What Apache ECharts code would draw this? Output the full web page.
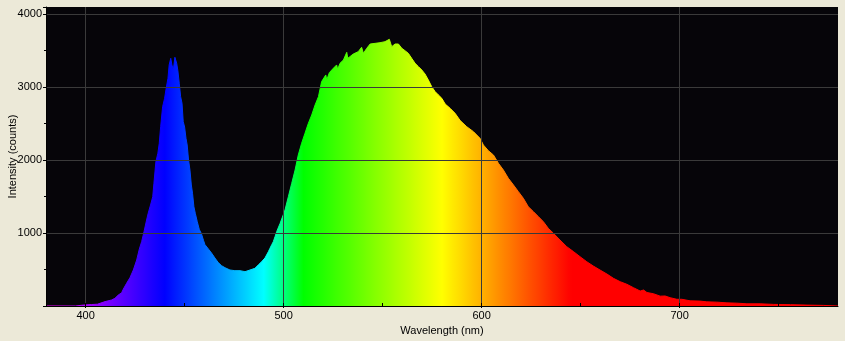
<!DOCTYPE html>
<html>
<head>
<meta charset="utf-8">
<script src="https://cdn.jsdelivr.net/npm/echarts@6/dist/echarts.min.js"></script>
<style>
html,body{margin:0;padding:0;background:#ECE9D8;}
#c{width:845px;height:341px;}
</style>
</head>
<body>
<div id="c"></div>
<script>
// Wavelength (nm) samples
const wavelengths = [380,395,398,400,403,406,407,409.8,413.1,414.8,416.5,418.2,419.0,420.7,422.4,424.1,425.8,427.1,428.3,429.5,430.8,431.6,432.8,433.9,434.5,435.5,436.5,437.2,437.9,438.9,439.9,440.6,441.6,442.2,443.0,443.6,444.3,445.1,446.0,446.6,447.3,448.0,448.7,449.3,450.0,450.7,451.3,452.0,452.7,453.4,454.0,454.7,455.4,456.4,457.4,458.5,459.6,460.3,461.2,462.2,463.7,465.3,467.0,468.7,470.4,472.9,475.4,478.0,480.5,483.0,485.5,487.2,488.9,490.6,492.3,493.1,494.0,494.8,495.7,496.5,496.8,498.2,499.8,500.7,502.4,504.1,505.8,507.4,509.1,510.8,512.5,514.2,515.9,517.6,519.2,521.3,521.8,523.1,523.4,525.1,526.8,527.3,528.5,530.2,531.9,532.4,533.5,535.2,537.7,539.4,540.3,542.0,543.7,546.2,548.7,551.2,553.4,554.6,556.3,558.0,559.7,561.3,563.0,564.7,566.4,568.1,569.8,571.4,573.1,574.8,576.5,578.2,579.9,581.6,584.1,586.6,589.2,592.5,595.9,599.2,600.9,603.4,606.0,608.5,611.0,613.5,616.1,618.6,621.1,623.6,626.2,628.7,631.2,633.7,636.3,639.6,643.0,646.4,649.7,653.1,656.4,659.8,663.3,666.6,670.0,673.4,676.7,680.1,681.8,683.5,686.8,690.2,692.7,695.2,698.6,701.1,705.3,710.4,713.7,718.8,723.9,728.9,734.0,740.7,747.5,756.0,764.4,772.7,780];
// Intensity (counts) at those wavelengths
const intensity = [0,0,10,15,20,25,45,60,82,105,150,182,229,311,388,493,630,777,881,1018,1178,1270,1384,1497,1680,1977,2092,2229,2456,2730,2845,2969,3119,3302,3393,3302,3233,3407,3325,3224,3051,2868,2777,2526,2452,2297,2206,2000,1863,1658,1544,1360,1270,1155,1050,990,895,840,815,775,722,658,595,552,525,493,484,484,470,493,516,562,607,658,744,790,840,881,953,1018,1041,1130,1247,1315,1497,1680,1863,2068,2229,2366,2503,2617,2754,2868,3074,3165,3097,3197,3211,3256,3302,3243,3325,3370,3475,3393,3416,3452,3484,3544,3461,3530,3589,3598,3607,3621,3653,3552,3589,3589,3530,3498,3461,3393,3325,3279,3233,3179,3097,3005,2937,2891,2845,2767,2708,2640,2540,2456,2388,2297,2206,2128,2068,1955,1863,1750,1658,1566,1475,1360,1292,1224,1155,1064,996,904,813,745,676,607,548,493,438,379,333,297,251,205,219,185,168,135,137,114,92,92,71,67,57,53,43,39,30,30,22,18,12,8,0];
// Axis tick labels
const xLabels = [400,500,600,700];
const xMinorTicks = [400,450,500,550,600,650,700,750];
const yLabels = [1000,2000,3000,4000];

function specColor(w){
  let r=0,g=0,b=0;
  if(w<440){r=(440-w)/60;b=1;}
  else if(w<490){g=(w-440)/50;b=1;}
  else if(w<510){g=1;b=(510-w)/20;}
  else if(w<580){r=(w-510)/70;g=1;}
  else if(w<645){r=1;g=(645-w)/65;}
  else {r=1;}
  const c=v=>Math.round(Math.max(0,Math.min(1,v))*255);
  return 'rgb('+c(r)+','+c(g)+','+c(b)+')';
}
const stops=[];
for(let w=380; w<=780; w+=5) stops.push(specColor(w));

const seriesData = wavelengths.map((w,i)=>[w,intensity[i]]);
const font = 'Liberation Sans';
const chart = echarts.init(document.getElementById('c'));
chart.setOption({
  animation:false,
  backgroundColor:'#ECE9D8',
  grid:{left:46,right:7,top:7,bottom:35,show:true,backgroundColor:'#060509',borderWidth:0,
    containLabel:false,outerBoundsMode:'none'},
  visualMap:{type:'continuous',show:false,dimension:0,min:380,max:780,inRange:{color:stops},seriesIndex:0},
  xAxis:[{
    type:'value',min:380,max:780,z:5,
    name:'Wavelength (nm)',nameLocation:'middle',nameGap:19,nameMoveOverlap:false,
    nameTextStyle:{fontFamily:font,fontSize:11,color:'#000'},
    axisLine:{show:true,lineStyle:{color:'#000',width:1}},
    axisTick:{show:true,customValues:xLabels,length:2,inside:false,lineStyle:{color:'#000'}},
    axisLabel:{customValues:xLabels,margin:4,fontFamily:font,fontSize:11,color:'#000'},
    splitLine:{show:true,lineStyle:{color:'#3a3a3a',width:1}}
  },{
    type:'value',min:380,max:780,z:6,gridIndex:0,position:'bottom',
    axisLine:{show:false},
    axisTick:{show:true,customValues:xMinorTicks,length:3,inside:true,lineStyle:{color:'#000'}},
    axisLabel:{show:false},
    splitLine:{show:false}
  }],
  yAxis:{
    type:'value',min:0,max:4096,interval:1000,z:5,
    name:'Intensity (counts)',nameLocation:'middle',nameGap:28,nameRotate:90,nameMoveOverlap:false,
    nameTextStyle:{fontFamily:font,fontSize:11,color:'#000'},
    axisLine:{show:true,lineStyle:{color:'#000'}},
    axisTick:{show:true,length:3,lineStyle:{color:'#000'}},
    minorTick:{show:true,splitNumber:2,length:2,lineStyle:{color:'#000'}},
    axisLabel:{margin:4,fontFamily:font,fontSize:11,color:'#000',showMinLabel:false,showMaxLabel:false,
      formatter:v=>yLabels.indexOf(v)>=0?String(v):''},
    splitLine:{show:true,showMinLine:false,showMaxLine:false,lineStyle:{color:'#3a3a3a',width:1}}
  },
  series:[{
    type:'line',xAxisIndex:0,data:seriesData,symbol:'none',
    lineStyle:{width:1},areaStyle:{opacity:1},z:2
  }]
});
</script>
</body>
</html>
